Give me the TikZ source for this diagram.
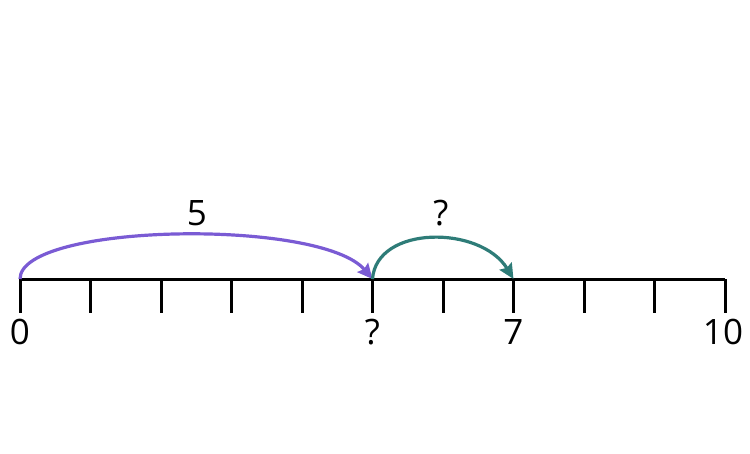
\documentclass[tikz,border=0pt]{standalone}
\usepackage{fontspec}
\setmainfont{Open Sans}
\usetikzlibrary{arrows.meta, positioning}

\definecolor{jumpviolet}{RGB}{122,91,212}
\definecolor{jumpteal}{RGB}{46,124,120}

\begin{document}
\begin{tikzpicture}[x=1pt, y=-1pt,
    axis/.style={line width=3pt, black},
    tick/.style={line width=3pt, black},
    lab/.style={font=\fontsize{35}{38}\selectfont, inner sep=0pt, anchor=base},
    jump/.style={line width=3.2pt, -{Stealth[length=15pt, width=14pt, inset=2pt]}}]
    \useasboundingbox (0,0) rectangle (750,453);
    % ticks
    \foreach \i in {0,...,10} {
        \coordinate (t\i) at (20+70.5*\i,279);
        \draw[tick] (t\i) -- ++(0,34);
    }
    \draw[axis] (t0) -- (t10);
    % labels under the line
    \draw (20,344) node[lab] (l0) {0};
    \draw (372.5,344) node[lab] (l5) {?};
    \draw (513.5,344) node[lab] (l7) {7};
    \draw (723,344) node[lab] (l10) {10};
    % jumps
    \draw[jump, jumpviolet] (t0) .. controls +(0,-56) and +(-52,-61) .. (t5);
    \draw[jump, jumpteal] (t5) .. controls +(4,-54) and +(-33,-54) .. (t7);
    \draw (197,225) node[lab] (j5) {5};
    \draw (441,225) node[lab] (jq) {?};
\end{tikzpicture}
\end{document}
